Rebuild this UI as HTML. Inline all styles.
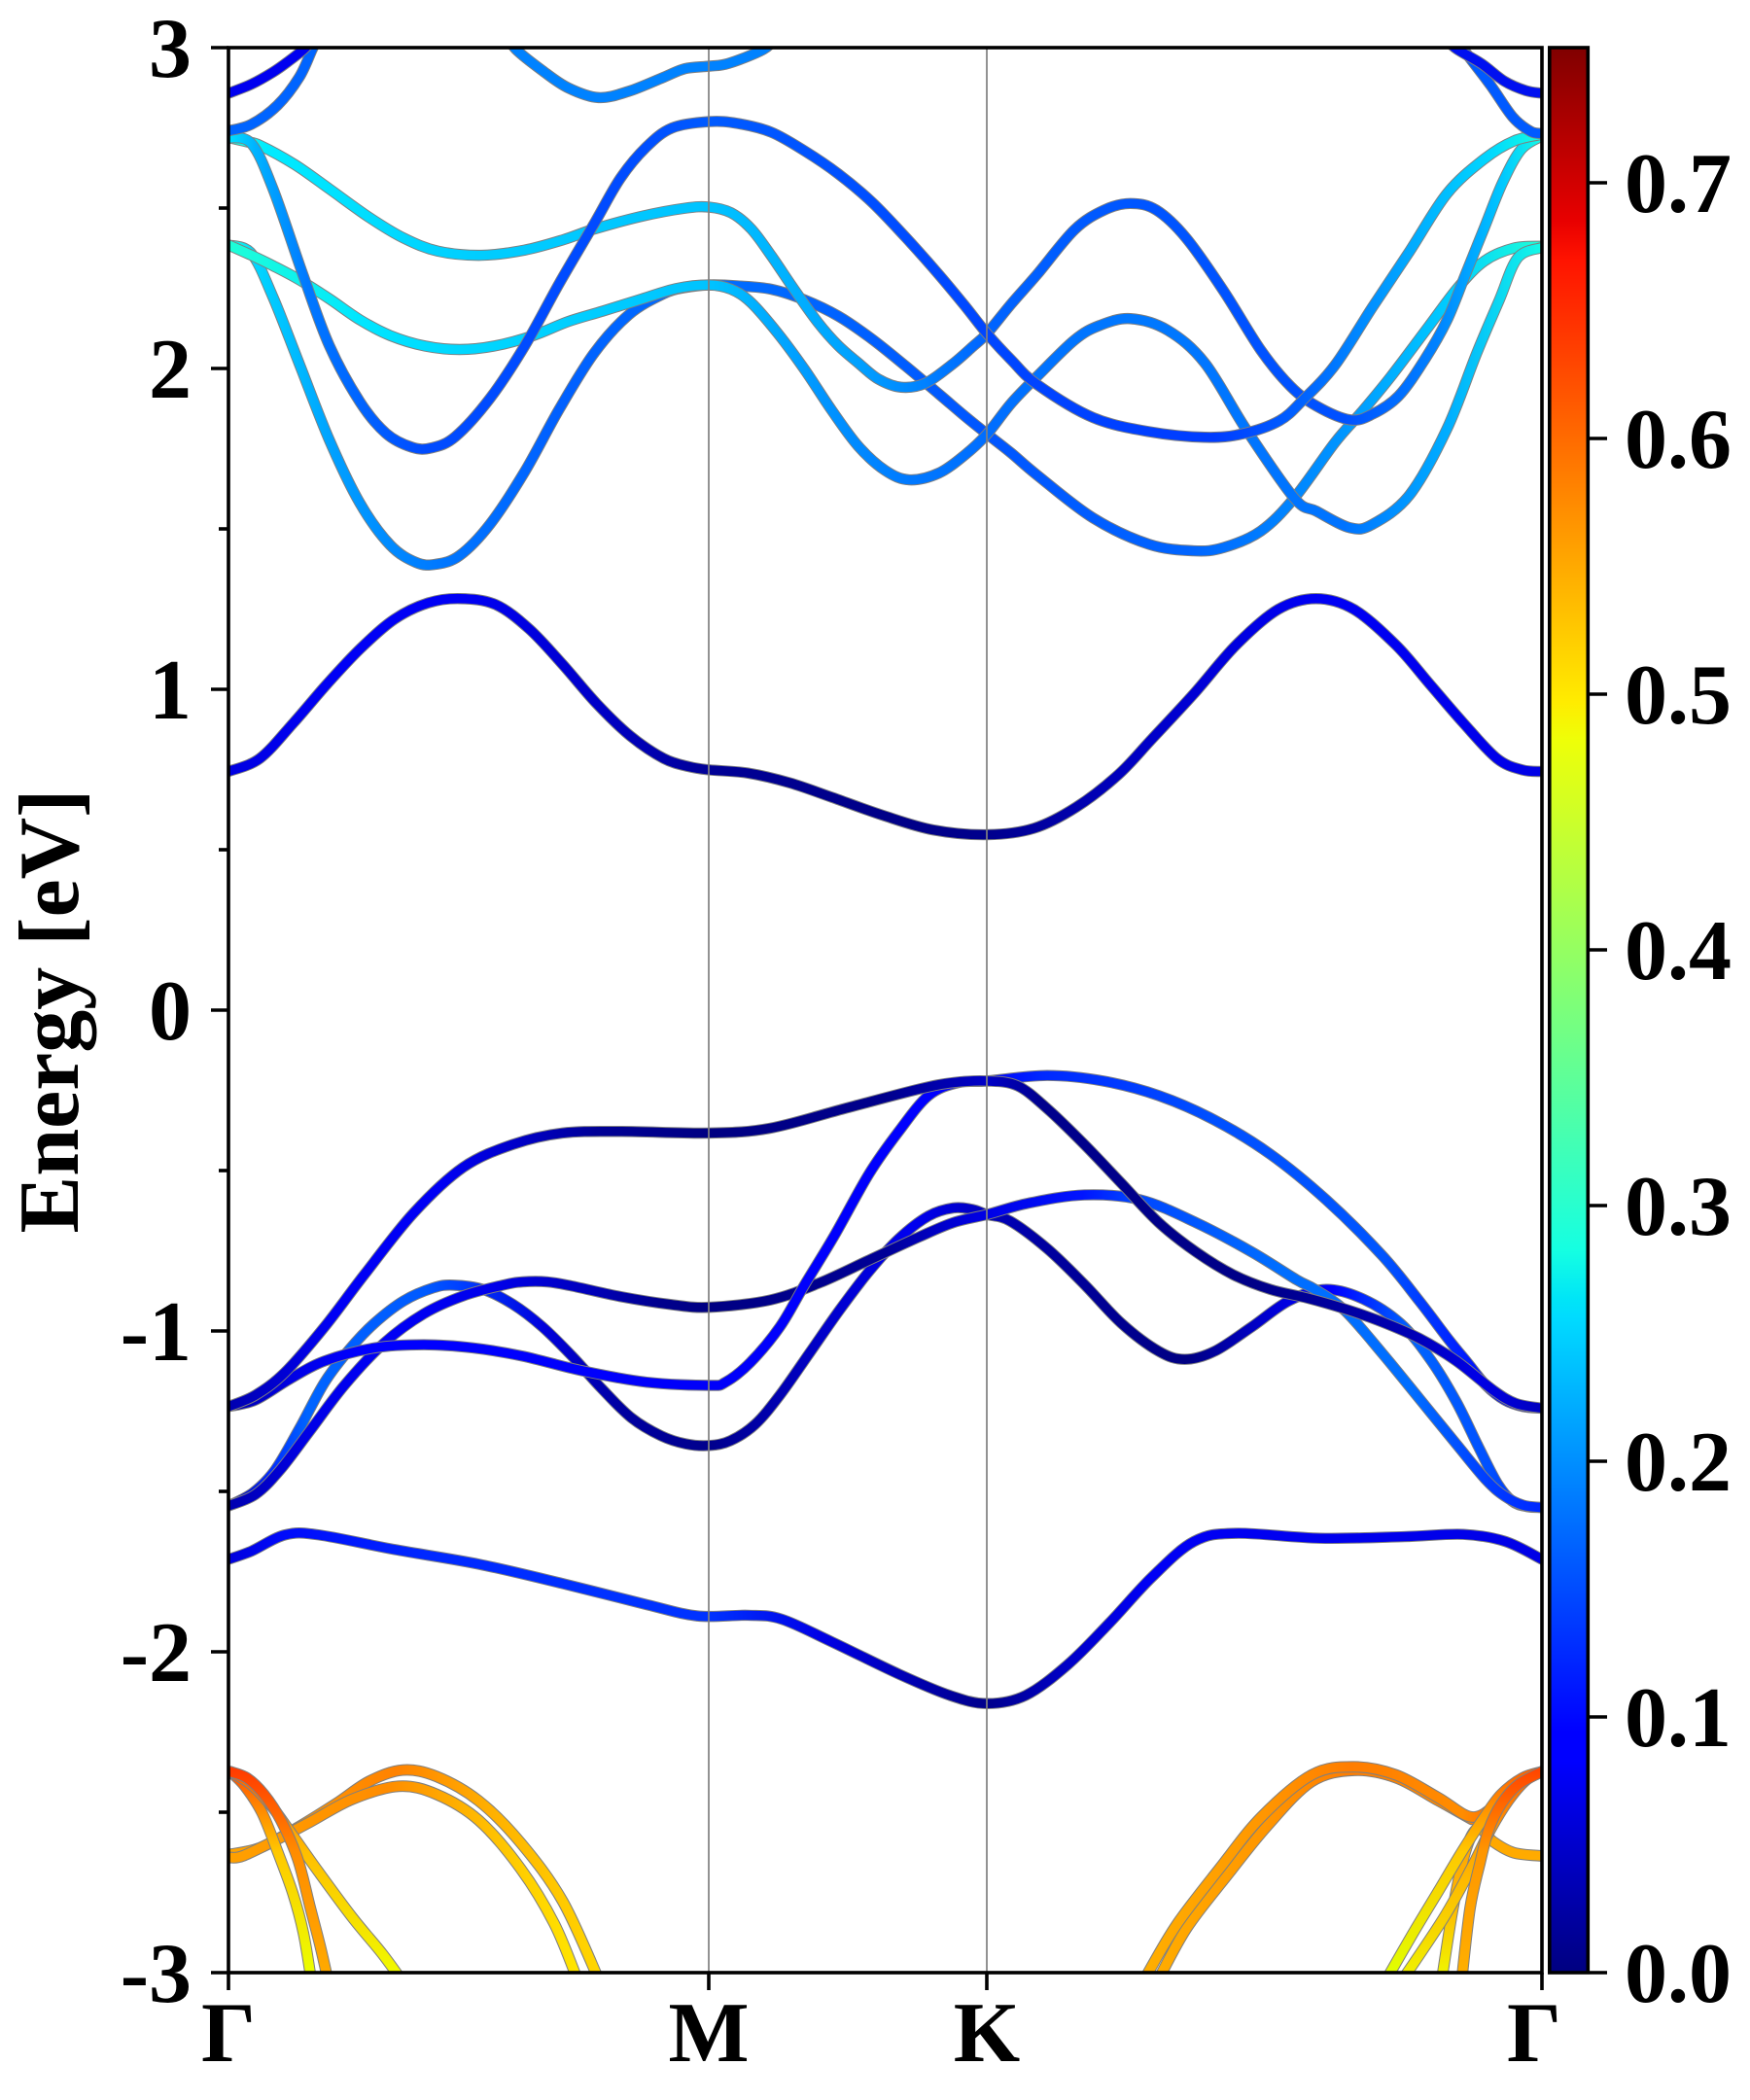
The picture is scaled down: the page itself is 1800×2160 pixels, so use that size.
<!DOCTYPE html>
<html><head><meta charset="utf-8"><style>
html,body{margin:0;padding:0;background:#fff;}
svg{display:block;}
text{font-family:"Liberation Serif","Times New Roman",serif;font-weight:bold;fill:#000;}
</style></head><body>
<svg width="1800" height="2160" viewBox="0 0 1800 2160" xmlns="http://www.w3.org/2000/svg">
<defs>
<clipPath id="clip"><rect x="235" y="49" width="1351" height="1980"/></clipPath>
<linearGradient id="jet" x1="0" y1="1" x2="0" y2="0">
<stop offset="0" stop-color="#000080"/><stop offset="0.11" stop-color="#0000ff"/><stop offset="0.125" stop-color="#0000ff"/>
<stop offset="0.34" stop-color="#00dbff"/><stop offset="0.35" stop-color="#00e5f7"/><stop offset="0.375" stop-color="#15ffe2"/>
<stop offset="0.5" stop-color="#7bff7b"/><stop offset="0.64" stop-color="#eeff08"/><stop offset="0.66" stop-color="#ffec00"/>
<stop offset="0.89" stop-color="#ff1300"/><stop offset="0.91" stop-color="#e80000"/><stop offset="1" stop-color="#800000"/>
</linearGradient>
<linearGradient id="gC1" gradientUnits="userSpaceOnUse" x1="170" y1="0" x2="1150" y2="0">
<stop offset="0" stop-color="#0000e1"/><stop offset="0.08" stop-color="#0000f5"/><stop offset="0.18" stop-color="#0000f5"/><stop offset="0.28" stop-color="#0000c8"/><stop offset="0.366" stop-color="#000096"/><stop offset="0.5" stop-color="#000087"/><stop offset="0.577" stop-color="#00008c"/><stop offset="0.7" stop-color="#0000c8"/><stop offset="0.83" stop-color="#0000f5"/><stop offset="1" stop-color="#0000e6"/>
</linearGradient>
<linearGradient id="gC" gradientUnits="userSpaceOnUse" x1="170" y1="0" x2="1150" y2="0">
<stop offset="0" stop-color="#14ffe1"/><stop offset="0.03" stop-color="#00ebff"/><stop offset="0.19" stop-color="#00cdff"/><stop offset="0.366" stop-color="#00c3ff"/><stop offset="0.48" stop-color="#00a0ff"/><stop offset="0.577" stop-color="#0064ff"/><stop offset="0.69" stop-color="#0055ff"/><stop offset="0.85" stop-color="#0050ff"/><stop offset="0.92" stop-color="#0082ff"/><stop offset="0.97" stop-color="#00c8ff"/><stop offset="1" stop-color="#14fae6"/>
</linearGradient>
<linearGradient id="gD" gradientUnits="userSpaceOnUse" x1="170" y1="0" x2="1150" y2="0">
<stop offset="0" stop-color="#00e1ff"/><stop offset="0.02" stop-color="#00b4ff"/><stop offset="0.06" stop-color="#0078ff"/><stop offset="0.15" stop-color="#004bff"/><stop offset="0.3" stop-color="#004bff"/><stop offset="0.366" stop-color="#005aff"/><stop offset="0.577" stop-color="#0046ff"/><stop offset="0.75" stop-color="#003cff"/><stop offset="0.82" stop-color="#0064ff"/><stop offset="0.9" stop-color="#00aaff"/><stop offset="0.96" stop-color="#00d7ff"/><stop offset="1" stop-color="#14ffe1"/>
</linearGradient>
<linearGradient id="gE" gradientUnits="userSpaceOnUse" x1="170" y1="0" x2="1150" y2="0">
<stop offset="0" stop-color="#1effdc"/><stop offset="0.02" stop-color="#00d7ff"/><stop offset="0.08" stop-color="#00a0ff"/><stop offset="0.16" stop-color="#0078ff"/><stop offset="0.25" stop-color="#005fff"/><stop offset="0.366" stop-color="#006eff"/><stop offset="0.577" stop-color="#0055ff"/><stop offset="0.73" stop-color="#0064ff"/><stop offset="0.85" stop-color="#0096ff"/><stop offset="0.93" stop-color="#00cdff"/><stop offset="1" stop-color="#1effd7"/>
</linearGradient>
<linearGradient id="gF" gradientUnits="userSpaceOnUse" x1="170" y1="0" x2="1150" y2="0">
<stop offset="0" stop-color="#1effd7"/><stop offset="0.1" stop-color="#00e6ff"/><stop offset="0.18" stop-color="#00d7ff"/><stop offset="0.366" stop-color="#00c3ff"/><stop offset="0.45" stop-color="#0096ff"/><stop offset="0.52" stop-color="#0078ff"/><stop offset="0.577" stop-color="#006eff"/><stop offset="0.69" stop-color="#0078ff"/><stop offset="0.85" stop-color="#0073ff"/><stop offset="0.93" stop-color="#00afff"/><stop offset="1" stop-color="#14fae6"/>
</linearGradient>
<linearGradient id="gVA" gradientUnits="userSpaceOnUse" x1="170" y1="0" x2="1150" y2="0">
<stop offset="0" stop-color="#0000af"/><stop offset="0.04" stop-color="#0000d2"/><stop offset="0.08" stop-color="#0000f5"/><stop offset="0.16" stop-color="#0000f5"/><stop offset="0.22" stop-color="#0000c8"/><stop offset="0.28" stop-color="#000096"/><stop offset="0.366" stop-color="#000082"/><stop offset="0.5" stop-color="#00008c"/><stop offset="0.577" stop-color="#0000c8"/><stop offset="0.62" stop-color="#00008c"/><stop offset="0.78" stop-color="#000087"/><stop offset="0.9" stop-color="#0000b4"/><stop offset="0.95" stop-color="#0000e6"/><stop offset="1" stop-color="#0000be"/>
</linearGradient>
<linearGradient id="gVB" gradientUnits="userSpaceOnUse" x1="170" y1="0" x2="1150" y2="0">
<stop offset="0" stop-color="#0000aa"/><stop offset="0.05" stop-color="#0000e6"/><stop offset="0.1" stop-color="#0000ff"/><stop offset="0.366" stop-color="#0000fa"/><stop offset="0.577" stop-color="#0000ff"/><stop offset="0.62" stop-color="#0028ff"/><stop offset="0.75" stop-color="#0050ff"/><stop offset="0.88" stop-color="#0055ff"/><stop offset="0.95" stop-color="#0014ff"/><stop offset="1" stop-color="#0000c8"/>
</linearGradient>
<linearGradient id="gVC" gradientUnits="userSpaceOnUse" x1="170" y1="0" x2="1150" y2="0">
<stop offset="0" stop-color="#0000af"/><stop offset="0.06" stop-color="#0000e6"/><stop offset="0.12" stop-color="#0000f5"/><stop offset="0.2" stop-color="#0000eb"/><stop offset="0.27" stop-color="#0000be"/><stop offset="0.33" stop-color="#00008c"/><stop offset="0.366" stop-color="#000082"/><stop offset="0.5" stop-color="#000096"/><stop offset="0.55" stop-color="#0000d2"/><stop offset="0.577" stop-color="#0000e6"/><stop offset="0.65" stop-color="#0014ff"/><stop offset="0.69" stop-color="#0046ff"/><stop offset="0.8" stop-color="#006eff"/><stop offset="0.9" stop-color="#006eff"/><stop offset="0.96" stop-color="#003cff"/><stop offset="1" stop-color="#0028ff"/>
</linearGradient>
<linearGradient id="gVD" gradientUnits="userSpaceOnUse" x1="170" y1="0" x2="1150" y2="0">
<stop offset="0" stop-color="#0000af"/><stop offset="0.03" stop-color="#0028ff"/><stop offset="0.06" stop-color="#0064ff"/><stop offset="0.15" stop-color="#005aff"/><stop offset="0.18" stop-color="#003cff"/><stop offset="0.24" stop-color="#0000dc"/><stop offset="0.3" stop-color="#0000a0"/><stop offset="0.366" stop-color="#00008c"/><stop offset="0.45" stop-color="#0000c8"/><stop offset="0.52" stop-color="#0000f0"/><stop offset="0.577" stop-color="#0000be"/><stop offset="0.62" stop-color="#0000a0"/><stop offset="0.73" stop-color="#000082"/><stop offset="0.8" stop-color="#0000dc"/><stop offset="0.84" stop-color="#0000ff"/><stop offset="0.9" stop-color="#0064ff"/><stop offset="0.96" stop-color="#0050ff"/><stop offset="1" stop-color="#0028ff"/>
</linearGradient>
<linearGradient id="gVE" gradientUnits="userSpaceOnUse" x1="170" y1="0" x2="1150" y2="0">
<stop offset="0" stop-color="#0000dc"/><stop offset="0.04" stop-color="#000afa"/><stop offset="0.15" stop-color="#0028ff"/><stop offset="0.3" stop-color="#0032ff"/><stop offset="0.366" stop-color="#0032ff"/><stop offset="0.45" stop-color="#0000e6"/><stop offset="0.53" stop-color="#0000aa"/><stop offset="0.577" stop-color="#00008c"/><stop offset="0.64" stop-color="#0000c8"/><stop offset="0.7" stop-color="#0000f5"/><stop offset="1" stop-color="#0000e6"/>
</linearGradient>
<linearGradient id="gOa" gradientUnits="userSpaceOnUse" x1="0" y1="1319" x2="0" y2="1470"><stop offset="0" stop-color="#ff3c00"/><stop offset="0.4" stop-color="#ff8c00"/><stop offset="1" stop-color="#ffaa00"/></linearGradient>
<linearGradient id="gOk" gradientUnits="userSpaceOnUse" x1="0" y1="1319" x2="0" y2="1470"><stop offset="0" stop-color="#ff5000"/><stop offset="0.4" stop-color="#ffc800"/><stop offset="1" stop-color="#ebff00"/></linearGradient>
<linearGradient id="gOb" gradientUnits="userSpaceOnUse" x1="0" y1="1319" x2="0" y2="1470"><stop offset="0" stop-color="#ff5a00"/><stop offset="0.4" stop-color="#ffbe00"/><stop offset="1" stop-color="#f0fa00"/></linearGradient>
<linearGradient id="gOg" gradientUnits="userSpaceOnUse" x1="0" y1="1319" x2="0" y2="1470"><stop offset="0" stop-color="#ff4600"/><stop offset="0.4" stop-color="#ff9600"/><stop offset="1" stop-color="#ffaf00"/></linearGradient>
<linearGradient id="gOh" gradientUnits="userSpaceOnUse" x1="0" y1="1319" x2="0" y2="1470"><stop offset="0" stop-color="#ff6400"/><stop offset="0.4" stop-color="#ffc800"/><stop offset="1" stop-color="#e1ff00"/></linearGradient>
<linearGradient id="gOj" gradientUnits="userSpaceOnUse" x1="0" y1="1319" x2="0" y2="1470"><stop offset="0" stop-color="#ff6400"/><stop offset="0.5" stop-color="#ffb400"/><stop offset="1" stop-color="#f0f000"/></linearGradient>
<linearGradient id="gOi" gradientUnits="userSpaceOnUse" x1="0" y1="1362" x2="0" y2="1470"><stop offset="0" stop-color="#ffa500"/><stop offset="0.5" stop-color="#ffb400"/><stop offset="1" stop-color="#f0f500"/></linearGradient>
<linearGradient id="gOc" gradientUnits="userSpaceOnUse" x1="171" y1="0" x2="447" y2="0"><stop offset="0" stop-color="#ffa500"/><stop offset="0.45" stop-color="#ff8200"/><stop offset="0.7" stop-color="#ffaf00"/><stop offset="1" stop-color="#ffd700"/></linearGradient>
<linearGradient id="gOd" gradientUnits="userSpaceOnUse" x1="171" y1="0" x2="431" y2="0"><stop offset="0" stop-color="#ffa000"/><stop offset="0.45" stop-color="#ff8c00"/><stop offset="0.8" stop-color="#ffc800"/><stop offset="1" stop-color="#ffe600"/></linearGradient>
<linearGradient id="gOe" gradientUnits="userSpaceOnUse" x1="853" y1="0" x2="1150" y2="0"><stop offset="0" stop-color="#ffaf00"/><stop offset="0.3" stop-color="#ff9600"/><stop offset="0.52" stop-color="#ff7d00"/><stop offset="0.8" stop-color="#ff8c00"/><stop offset="1" stop-color="#ff4600"/></linearGradient>

<polyline id="bVE" points="170,1161.3 187.1,1155.2 212.2,1143.1 237.4,1143.1 293.9,1154 356.7,1164.9 419.4,1179.4 482.2,1195.1 519.9,1203.5 557.6,1203 582.7,1205.9 620.4,1222.9 670.6,1247 708.3,1262.7 735.9,1268.8 764.8,1262.7 796.2,1239.8 827.6,1208.4 859,1174.6 890.4,1148 921.8,1141.9 984.6,1145.6 1047.3,1144.4 1091.3,1142.7 1122.7,1148 1150,1161.3"/>
<polyline id="bVD" points="170,1121.5 188.2,1111.8 204.8,1094.8 223.3,1063.3 241.8,1029.3 260.2,1005 278.7,985.6 300.8,968.7 323,959 337.7,957 359.9,960.2 382.1,971.2 404.2,988 426.4,1009.9 448.5,1034.1 470.7,1055.9 492.9,1069.3 511.3,1075.3 528.7,1076.5 544.6,1072.9 563,1060.7 581.5,1038.9 603.7,1007.4 625.8,975.8 648,946.7 670.1,922.5 692.3,905.5 710.8,899.5 725.5,900.7 735.9,904.4 753.1,909.2 780.9,929.8 808.6,956.5 836.4,985.6 864.1,1006.3 883.5,1012.3 905.7,1006.3 933.5,988.1 961.2,968.7 989,960.2 1016.7,967.4 1044.5,985.6 1066.7,1012.3 1086.1,1043.9 1102.8,1077.8 1116.6,1104.5 1127.7,1117.9 1138.8,1122 1150,1122.7"/>
<polyline id="bVC" points="170,1121.5 190.1,1113 208.5,1094.8 230.7,1065.7 256.5,1031.7 286.1,1000.2 315.7,978.4 345.2,965 374.8,957 389.5,954.6 408,954.6 426.4,957.7 463.3,965.7 500.3,971.5 528.7,973.5 574.1,968.1 611.1,955.3 648,938.3 684.9,921.3 710.8,910.4 735.9,904.4 767,895.9 808.6,889.8 850.2,893.4 891.9,910.4 933.5,932.3 966.8,952.9 980.7,960.2 1002.9,975.9 1030.6,1007.5 1058.4,1041.4 1086.1,1075.4 1108.3,1102.1 1122.2,1114.2 1136,1121 1150,1122.7"/>
<polyline id="bVB" points="170,1047.5 190.1,1042.6 215.9,1026.9 241.8,1013.5 278.7,1003.8 315.7,1001.4 352.6,1003.8 389.5,1009.9 433.8,1020.8 481.8,1029.3 528.7,1031.7 540.9,1029.3 559.3,1014.7 581.5,988 600,956.5 622.1,920.1 648,874 670.1,842.5 692.3,815.8 714.5,806.1 735.9,804.9 780.9,800.8 822.5,804.9 864.1,815.8 905.7,834 947.4,859.5 989,893.4 1030.6,934.7 1058.4,968.7 1080.6,997.8 1094.4,1014.7 1108.3,1031.7 1122.2,1042.6 1136,1047.5 1150,1048.7"/>
<polyline id="bVA" points="170,1047.5 190.1,1039 212.2,1022 241.8,988 271.3,949.3 308.2,903.2 345.2,869.2 382.1,852.2 419,843.7 463.3,842.5 528.7,843.7 574.1,840.1 629.5,825.5 684.9,811 710.8,806.1 735.9,804.9 758.7,808.5 780.9,825.5 808.6,852.2 836.4,881.3 864.1,910.4 891.9,932.3 919.6,949.2 947.4,960.2 975.1,966.7 1002.9,974.7 1030.6,984.4 1058.4,996.6 1086.1,1013.5 1113.8,1035.4 1130.5,1045.1 1150,1048.7"/>
<polyline id="bC1" points="170,574.3 193.4,564.6 218.5,538.1 243.6,509.1 268.7,482.5 293.9,460.8 319,448.7 342.8,445.5 369.2,449.9 394.3,468 419.4,494.6 444.6,523.6 469.7,547.7 494.8,564.6 513.6,570.7 528.7,573.1 557.6,575.5 588.9,582.8 620.4,593.6 658.1,606.9 695.7,617.8 735.9,621.4 771,616.6 802.5,600.9 833.9,576.7 859,550.1 890.4,516.3 921.8,480.1 953.2,453.5 981.4,445.5 1009.7,453.5 1041.1,480.1 1066.2,509.1 1091.3,538.1 1116.4,564.6 1135.3,573.1 1150,574.3"/>
<polyline id="bE" points="170,182 187.2,188.4 203.3,221 222.8,270.4 245.4,327.6 268.1,374.4 290.7,405.6 310.1,418.6 324.7,419.9 342.5,413.4 365.2,390 391,351 416.9,304.2 442.8,262.6 468.7,234 494.6,218.4 510.8,213.7 528.7,211.8 550,212.5 575,215 600,223 625,235 650,252 675,272 700,293 720,310 735.9,322.8 754,337 773.4,353.5 815.1,385.4 856.8,405 890.2,409.9 912.4,407.5 940.2,395.2 965.2,370.6 995.8,328.9 1015.2,306.8 1037.4,279.9 1065.2,243.1 1087.4,213.7 1106.9,194.1 1129.1,184.3 1150,183"/>
<polyline id="bF" points="170,182 187.2,189.7 203.3,197.5 222.8,207.9 245.4,222.2 268.1,237.8 290.7,249.5 316.6,257.3 342.5,259.9 368.4,257.3 397.5,249.5 423.4,239.1 449.3,231.3 478.5,222.2 504.4,214.4 528.7,211.8 545,215 560,225 580,248 600,275 620,305 640,332 660,350 678,357 700,352 720,338 735.9,323 754,300 773.4,279.9 801.2,252.9 820,242 842.9,236.9 870.7,245.5 898.5,270 929.1,319.1 965.2,370.6 981.8,380.4 1006.8,392.7 1023.5,390.2 1051.3,368.2 1079.1,319.1 1101.3,262.7 1118,223.5 1131.9,191.6 1150,184"/>
<polyline id="bC" points="170,102 184,105.2 193.6,107.8 219.5,122.1 245.4,140.3 274.5,161.1 300.4,176.7 326.3,186.6 358.7,189.7 391,185.8 420.2,178 442.8,170.2 478.5,160.6 510.8,154.6 528.7,153.8 545,158 560,170 575,190 592,215 610,240 625,257 640,270 655,282 672,288 690,285 710,271 725,258 735.9,248 754,226 773.4,203.9 801.2,170.7 823.4,156 842.9,151.1 862.3,156 884.6,176.9 912.4,216.1 940.2,260.3 962.4,287.3 981.8,302 1006.8,312.3 1023.5,308.1 1043,294.6 1062.4,267.6 1079.1,238.2 1093,203.9 1106.9,169.5 1120.8,135.2 1134.7,110.6 1150,100.8"/>
<polyline id="bD" points="170,102 187.2,106.5 203.3,140.3 226,205.3 245.4,257.3 268.1,298.9 287.5,322.3 306.9,332.7 321.5,333.2 339.3,324.8 365.2,296.2 391,257.3 416.9,210.5 442.8,166.3 462.3,132.5 481.7,109.1 501.1,94.8 528.7,90.1 550,91.5 575,98 600,112 625,129 650,150 675,176 700,204 720,228 735.9,248 754,267.6 773.4,286 815.1,310.6 856.8,321.1 898.5,325.3 926.3,322.8 954.1,313 972.2,297 995.8,271.3 1023.5,228.4 1051.3,186.7 1079.1,143.8 1106.9,118 1129.1,104.5 1150,99.6"/>
<polyline id="bG" points="378,26 384.6,36.3 404,51.9 423.4,64.9 446.1,72.2 468.7,67.5 494.6,57.1 510.8,50.6 528.7,48.8 543.2,46.7 569.1,36.3 580,26"/>
<polyline id="bAL" points="170,69 187,62.3 203.3,53.2 215,45 226,36.3 234,28"/>
<polyline id="bAR" points="1078,26 1085,35 1105,47 1122,60 1138,67 1150,69"/>
<polyline id="bBL" points="170,97 187,92.2 206.6,77.9 222.8,57.1 232.5,36.3 237,27"/>
<polyline id="bBR" points="1087,26 1091.6,36.3 1111.6,62.9 1128.3,86.8 1141.6,97.4 1150,99"/>
<polyline id="oA" points="171.4,1319.5 184,1324.3 196.5,1336.4 209.1,1355.7 221.7,1384.7 231.1,1421 238.6,1450 244.5,1476"/>
<polyline id="oK" points="171.4,1319.5 182,1330 195,1350 207,1380 218,1410 226,1440 232,1476"/>
<polyline id="oB" points="171.4,1319.5 187.1,1329.2 202.8,1346 218.5,1367.8 237.4,1394.4 262.5,1428.2 284.5,1454.8 300,1476"/>
<polyline id="oC" points="171.4,1381.1 193.4,1376.3 218.5,1363 249.9,1343.6 275,1326.7 300.1,1318.3 325.3,1323.1 356.7,1341.2 388.1,1372.6 419.4,1416.1 447,1476"/>
<polyline id="oD" points="171.4,1383.5 180.8,1382.3 206,1370.2 231.1,1356.9 262.5,1340 297,1330.4 325.3,1336.4 356.7,1355.7 388.1,1391.9 413.2,1433 431,1476"/>
<polyline id="oF" points="863,1476 885,1436 915,1397 945,1360 978,1327 1009.7,1318.5 1041.1,1324 1072.5,1341 1097.6,1355"/>
<polyline id="oE" points="853,1476 855.8,1470 877.8,1433 909.2,1392 940.6,1353.3 978.3,1321.9 1009.7,1315.9 1041.1,1321.9 1072.5,1338.8 1097.6,1353.3 1116.5,1343.6 1135.3,1326.7 1150,1319.5"/>
<polyline id="oG" points="1150,1319.5 1132.2,1329.2 1119.6,1343.6 1110.2,1363 1103.9,1387.1 1096.4,1421 1090,1476"/>
<polyline id="oH" points="1150,1319.5 1135.3,1324.3 1119.6,1336.4 1107.1,1353.3 1091.3,1377.5 1072.5,1408.9 1053.6,1440.3 1033,1476"/>
<polyline id="oJ" points="1150,1319.5 1138,1326 1125,1341 1112,1362 1098,1390 1077,1428 1045,1476"/>
<polyline id="oI" points="1150,1382.3 1129,1379.9 1113.3,1371.4 1103.9,1362 1097,1368 1090,1390 1083,1425 1075,1476"/>
</defs>

<rect x="0" y="0" width="1800" height="2160" fill="#fff"/>

<!-- bands -->
<g clip-path="url(#clip)">
<g transform="matrix(1.3786 0 0 1.3805 0.6 0.7)" fill="none" stroke-linecap="round" stroke-linejoin="round">
<use href="#bVE" stroke="#7f7f7f" stroke-width="8.3"/><use href="#bVE" stroke="url(#gVE)" stroke-width="6.9"/>
<use href="#bVD" stroke="#7f7f7f" stroke-width="8.3"/><use href="#bVD" stroke="url(#gVD)" stroke-width="6.9"/>
<use href="#bVC" stroke="#7f7f7f" stroke-width="8.3"/><use href="#bVC" stroke="url(#gVC)" stroke-width="6.9"/>
<use href="#bVB" stroke="#7f7f7f" stroke-width="8.3"/><use href="#bVB" stroke="url(#gVB)" stroke-width="6.9"/>
<use href="#bVA" stroke="#7f7f7f" stroke-width="8.3"/><use href="#bVA" stroke="url(#gVA)" stroke-width="6.9"/>
<use href="#bC1" stroke="#7f7f7f" stroke-width="8.3"/><use href="#bC1" stroke="url(#gC1)" stroke-width="6.9"/>
<use href="#bE" stroke="#7f7f7f" stroke-width="8.3"/><use href="#bE" stroke="url(#gE)" stroke-width="6.9"/>
<use href="#bF" stroke="#7f7f7f" stroke-width="8.3"/><use href="#bF" stroke="url(#gF)" stroke-width="6.9"/>
<use href="#bC" stroke="#7f7f7f" stroke-width="8.3"/><use href="#bC" stroke="url(#gC)" stroke-width="6.9"/>
<use href="#bD" stroke="#7f7f7f" stroke-width="8.3"/><use href="#bD" stroke="url(#gD)" stroke-width="6.9"/>
<use href="#bG" stroke="#7f7f7f" stroke-width="8.3"/><use href="#bG" stroke="#0082ff" stroke-width="6.9"/>
<use href="#bBL" stroke="#7f7f7f" stroke-width="8.3"/><use href="#bBL" stroke="#0064ff" stroke-width="6.9"/>
<use href="#bBR" stroke="#7f7f7f" stroke-width="8.3"/><use href="#bBR" stroke="#005aff" stroke-width="6.9"/>
<use href="#bAL" stroke="#7f7f7f" stroke-width="8.3"/><use href="#bAL" stroke="#0000f0" stroke-width="6.9"/>
<use href="#bAR" stroke="#7f7f7f" stroke-width="8.3"/><use href="#bAR" stroke="#0010f0" stroke-width="6.9"/>

<use href="#oC" stroke="#7f7f7f" stroke-width="8.6"/><use href="#oC" stroke="url(#gOc)" stroke-width="7.1"/>
<use href="#oD" stroke="#7f7f7f" stroke-width="8.6"/><use href="#oD" stroke="url(#gOd)" stroke-width="7.1"/>
<use href="#oK" stroke="#7f7f7f" stroke-width="8.6"/><use href="#oK" stroke="url(#gOk)" stroke-width="7.1"/>
<use href="#oB" stroke="#7f7f7f" stroke-width="8.6"/><use href="#oB" stroke="url(#gOb)" stroke-width="7.1"/>
<use href="#oA" stroke="#7f7f7f" stroke-width="8.6"/><use href="#oA" stroke="url(#gOa)" stroke-width="7.1"/>
<use href="#oF" stroke="#7f7f7f" stroke-width="8.6"/><use href="#oF" stroke="url(#gOe)" stroke-width="7.1"/>
<use href="#oE" stroke="#7f7f7f" stroke-width="8.6"/><use href="#oE" stroke="url(#gOe)" stroke-width="7.1"/>
<use href="#oI" stroke="#7f7f7f" stroke-width="8.6"/><use href="#oI" stroke="url(#gOi)" stroke-width="7.1"/>
<use href="#oJ" stroke="#7f7f7f" stroke-width="8.6"/><use href="#oJ" stroke="url(#gOj)" stroke-width="7.1"/>
<use href="#oH" stroke="#7f7f7f" stroke-width="8.6"/><use href="#oH" stroke="url(#gOh)" stroke-width="7.1"/>
<use href="#oG" stroke="#7f7f7f" stroke-width="8.6"/><use href="#oG" stroke="url(#gOg)" stroke-width="7.1"/>
</g>
</g>

<!-- high symmetry lines -->
<line x1="729" y1="49" x2="729" y2="2029" stroke="#808080" stroke-width="2" opacity="0.85"/>
<line x1="1015" y1="49" x2="1015" y2="2029" stroke="#808080" stroke-width="2" opacity="0.85"/>

<!-- axes frame -->
<rect x="235" y="49" width="1351" height="1980" fill="none" stroke="#000" stroke-width="3.6"/>

<!-- ticks -->
<g stroke="#000" stroke-width="3.6">
<line x1="217" y1="49" x2="235" y2="49"/><line x1="217" y1="379" x2="235" y2="379"/><line x1="217" y1="709" x2="235" y2="709"/>
<line x1="217" y1="1039" x2="235" y2="1039"/><line x1="217" y1="1369" x2="235" y2="1369"/><line x1="217" y1="1699" x2="235" y2="1699"/>
<line x1="217" y1="2029" x2="235" y2="2029"/>
<line x1="225" y1="214" x2="235" y2="214"/><line x1="225" y1="544" x2="235" y2="544"/><line x1="225" y1="874" x2="235" y2="874"/>
<line x1="225" y1="1204" x2="235" y2="1204"/><line x1="225" y1="1534" x2="235" y2="1534"/><line x1="225" y1="1864" x2="235" y2="1864"/>
<line x1="235" y1="2029" x2="235" y2="2047"/><line x1="729" y1="2029" x2="729" y2="2047"/>
<line x1="1015" y1="2029" x2="1015" y2="2047"/><line x1="1586" y1="2029" x2="1586" y2="2047"/>
</g>

<!-- y tick labels -->
<g font-size="88" text-anchor="end">
<text x="197" y="79">3</text>
<text x="197" y="409">2</text>
<text x="197" y="739">1</text>
<text x="197" y="1069">0</text>
<text x="197" y="1399">-1</text>
<text x="197" y="1729">-2</text>
<text x="197" y="2059">-3</text>
</g>

<!-- x tick labels -->
<g font-size="88" text-anchor="middle">
<text x="235" y="2120">Γ</text>
<text x="729" y="2120">M</text>
<text x="1015" y="2120">K</text>
<text x="1578" y="2120">Γ</text>
</g>

<!-- y axis label -->
<text font-size="88" text-anchor="middle" transform="translate(80,1040) rotate(-90)">Energy [eV]</text>

<!-- colorbar -->
<rect x="1593.8" y="49" width="39.5" height="1980" fill="url(#jet)" stroke="#000" stroke-width="3.6"/>
<g stroke="#000" stroke-width="3.6">
<line x1="1635" y1="2029" x2="1653" y2="2029"/><line x1="1635" y1="1766" x2="1653" y2="1766"/>
<line x1="1635" y1="1503" x2="1653" y2="1503"/><line x1="1635" y1="1240" x2="1653" y2="1240"/>
<line x1="1635" y1="977" x2="1653" y2="977"/><line x1="1635" y1="714" x2="1653" y2="714"/>
<line x1="1635" y1="451" x2="1653" y2="451"/><line x1="1635" y1="188" x2="1653" y2="188"/>
</g>
<g font-size="88">
<text x="1671" y="2059">0.0</text>
<text x="1671" y="1796">0.1</text>
<text x="1671" y="1533">0.2</text>
<text x="1671" y="1270">0.3</text>
<text x="1671" y="1007">0.4</text>
<text x="1671" y="744">0.5</text>
<text x="1671" y="481">0.6</text>
<text x="1671" y="218">0.7</text>
</g>
</svg>
<script>
(function(){
  try{
    var pls=document.querySelectorAll('defs polyline');
    for(var k=0;k<pls.length;k++){
      var pl=pls[k];
      var raw=pl.getAttribute('points').trim().split(/\s+/);
      var pts=[];
      for(var j=0;j<raw.length;j++){var a=raw[j].split(',');pts.push([parseFloat(a[0]),parseFloat(a[1])]);}
      if(pts.length<3) continue;
      var d='M'+pts[0][0]+','+pts[0][1];
      var t=1/6;
      for(var i=0;i<pts.length-1;i++){
        var p0=pts[i>0?i-1:i],p1=pts[i],p2=pts[i+1],p3=pts[i+2<pts.length?i+2:i+1];
        var c1x=p1[0]+(p2[0]-p0[0])*t,c1y=p1[1]+(p2[1]-p0[1])*t;
        var c2x=p2[0]-(p3[0]-p1[0])*t,c2y=p2[1]-(p3[1]-p1[1])*t;
        d+=' C'+c1x.toFixed(2)+','+c1y.toFixed(2)+' '+c2x.toFixed(2)+','+c2y.toFixed(2)+' '+p2[0]+','+p2[1];
      }
      var p=document.createElementNS('http://www.w3.org/2000/svg','path');
      p.setAttribute('d',d);
      var id=pl.id;
      pl.parentNode.replaceChild(p,pl);
      p.setAttribute('id',id);
    }
  }catch(e){}
})();
</script>
</body></html>
